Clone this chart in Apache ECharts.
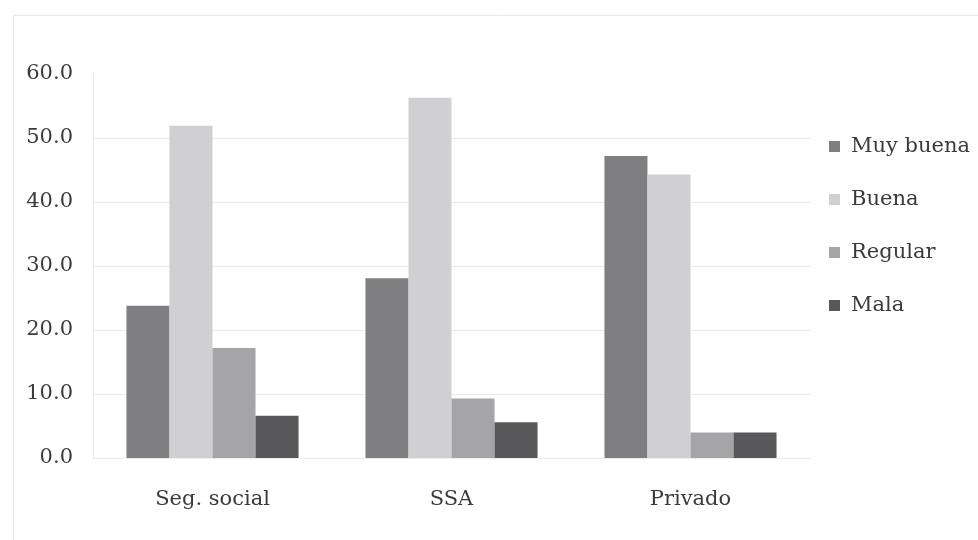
<!DOCTYPE html>
<html>
<head>
<meta charset="utf-8">
<script src="https://cdn.jsdelivr.net/npm/echarts@6/dist/echarts.min.js"></script>
<style>html,body{margin:0;padding:0;background:#fff}#c{width:978px;height:540px}</style>
</head>
<body>
<div id="c"></div>
<script>
const categories = ['Seg. social', 'SSA', 'Privado'];
const seriesNames = ['Muy buena', 'Buena', 'Regular', 'Mala'];
const muyBuena = [23.8, 28.1, 47.2];
const buena = [51.9, 56.3, 44.3];
const regular = [17.2, 9.3, 4.0];
const mala = [6.6, 5.6, 4.0];
const colors = ['#7f7f81', '#d0d0d2', '#a5a5a7', '#58585a'];
const values = [muyBuena, buena, regular, mala];
const FONT = 'DejaVu Serif';

const chart = echarts.init(document.getElementById('c'), null, {renderer: 'canvas'});
chart.setOption({
  animation: false,
  backgroundColor: '#fff',
  textStyle: {fontFamily: FONT},
  graphic: [{
    type: 'rect', left: 11, top: 13, z: -1,
    shape: {width: 990, height: 560},
    style: {fill: 'none', stroke: '#e8e8e8', lineWidth: 1}
  }],
  grid: {left: 93, right: 168, top: 74, bottom: 82},
  legend: {
    orient: 'vertical', left: 829, top: 136, itemGap: 32, padding: 0,
    itemWidth: 11, itemHeight: 11, icon: 'rect',
    textStyle: {fontFamily: FONT, fontSize: 21, color: '#3a3a3a', padding: [0, 0, 0, 6]},
    data: seriesNames
  },
  xAxis: {
    type: 'category', data: categories,
    axisLine: {lineStyle: {color: '#ececec'}},
    axisTick: {show: false},
    axisLabel: {fontFamily: FONT, fontSize: 21, color: '#3a3a3a', margin: 31}
  },
  yAxis: {
    type: 'value', min: 0, max: 60, interval: 10,
    axisLine: {show: true, lineStyle: {color: '#ebebeb'}},
    axisTick: {show: false},
    splitLine: {lineStyle: {color: ['#ececec', '#ececec', '#ececec', '#ececec', '#ececec', '#ececec', 'rgba(0,0,0,0)']}},
    axisLabel: {fontFamily: FONT, fontSize: 21, color: '#3a3a3a', margin: 20,
      formatter: v => v.toFixed(1)}
  },
  series: seriesNames.map((n, i) => ({
    name: n, type: 'bar', data: values[i],
    barGap: '0%', barCategoryGap: '28%',
    itemStyle: {color: colors[i]}
  }))
});
</script>
</body>
</html>
